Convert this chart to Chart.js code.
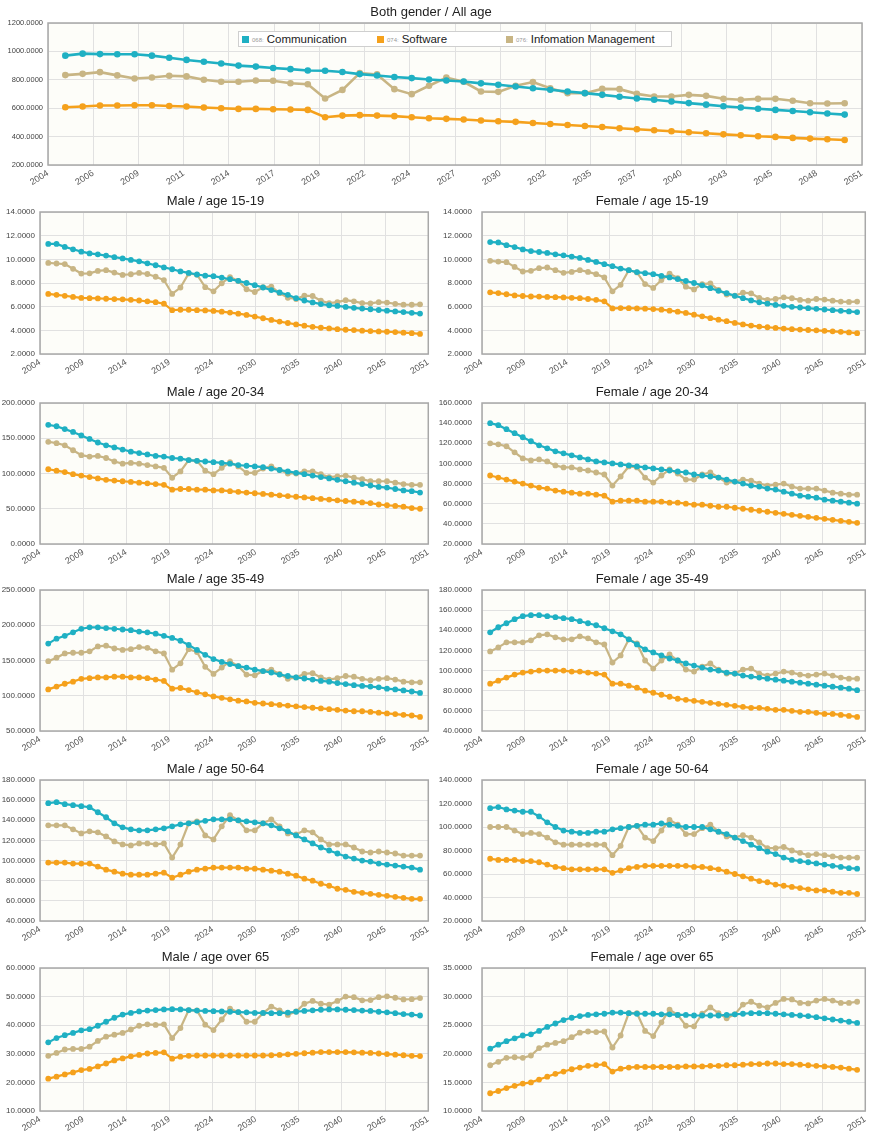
<!DOCTYPE html>
<html>
<head>
<meta charset="utf-8">
<script src="https://cdn.jsdelivr.net/npm/chart.js@4.4.0/dist/chart.umd.min.js"></script>
<style>
  html, body { margin: 0; padding: 0; background: #fff; }
  body { width: 874px; height: 1132px; position: relative; overflow: hidden; font-family: "Liberation Sans", Arial, sans-serif; }
  canvas { position: absolute; display: block; }
  #legend { position: absolute; left: 238px; top: 31px; width: 432px; height: 14px; background: #fff; border: 1px solid #cfcfcf; z-index: 5; }
  #legend .item { position: absolute; top: 0; height: 14px; line-height: 14px; font-size: 11.5px; color: #222; white-space: nowrap; }
  #legend .sw { display: inline-block; width: 7px; height: 7px; margin-right: 3px; vertical-align: 0px; }
  #legend .code { font-size: 6px; color: #999; margin-right: 3px; vertical-align: 1px; }
</style>
</head>
<body>
<div id="legend">
  <span class="item" style="left:3px"><span class="sw" style="background:#1fb0c3"></span><span class="code">068:</span>Communication</span>
  <span class="item" style="left:138px"><span class="sw" style="background:#f5a11c"></span><span class="code">074:</span>Software</span>
  <span class="item" style="left:267px"><span class="sw" style="background:#c8b584"></span><span class="code">076:</span>Infomation Management</span>
</div>
<script>
// ---- data ----
const years = [2005, 2006, 2007, 2008, 2009, 2010, 2011, 2012, 2013, 2014,
  2015, 2016, 2017, 2018, 2019, 2020, 2021, 2022, 2023, 2024,
  2025, 2026, 2027, 2028, 2029, 2030, 2031, 2032, 2033, 2034,
  2035, 2036, 2037, 2038, 2039, 2040, 2041, 2042, 2043, 2044,
  2045, 2046, 2047, 2048, 2049, 2050];

const topTickLabels = ['2004', '2006', '2009', '2011', '2014', '2017', '2019', '2022', '2024', '2027',
  '2030', '2032', '2035', '2037', '2040', '2043', '2045', '2048', '2051'];
const smallTickLabels = ['2004', '2009', '2014', '2019', '2024', '2030', '2035', '2040', '2045', '2051'];

const seriesNames = ['Communication', 'Software', 'Infomation Management'];

// Both gender / All age
const allComm = [970, 984, 981, 980, 980, 970, 955, 940, 927, 915, 900, 893, 883, 875, 866, 864, 855, 840, 830, 820,
  812, 802, 795, 788, 775, 765, 753, 741, 730, 718, 706, 694, 681, 668, 659, 647, 636, 625, 614, 605, 596, 588, 580, 571, 563, 555];
const allSoft = [607, 612, 619, 619, 621, 621, 616, 612, 605, 600, 595, 595, 593, 591, 588, 536, 548, 551, 548, 544,
  536, 529, 525, 520, 513, 508, 504, 496, 489, 482, 475, 468, 459, 452, 445, 438, 431, 424, 416, 409, 402, 398, 391, 386, 381, 376];
const allInfo = [833, 842, 854, 831, 809, 816, 828, 824, 800, 786, 786, 795, 793, 776, 769, 668, 729, 847, 838, 734,
  699, 758, 816, 786, 718, 715, 758, 784, 741, 706, 706, 736, 734, 701, 682, 682, 694, 687, 666, 659, 666, 666, 652, 635, 633, 635];

// Male / age 15-19
const m1519Comm = [11.3, 11.3, 11.05, 10.85, 10.65, 10.5, 10.42, 10.32, 10.18, 10.08, 9.95, 9.83, 9.66, 9.5, 9.32, 9.16, 8.98, 8.85, 8.72, 8.62,
  8.58, 8.46, 8.32, 8.18, 8.0, 7.82, 7.62, 7.4, 7.2, 7.0, 6.72, 6.52, 6.36, 6.22, 6.12, 6.06, 5.98, 5.9, 5.84, 5.78, 5.72, 5.66, 5.6, 5.54, 5.48, 5.42];
const m1519Soft = [7.08, 7.0, 6.92, 6.82, 6.74, 6.72, 6.7, 6.67, 6.64, 6.62, 6.58, 6.52, 6.45, 6.38, 6.25, 5.7, 5.74, 5.74, 5.7, 5.68,
  5.64, 5.58, 5.5, 5.41, 5.3, 5.16, 5.02, 4.88, 4.74, 4.62, 4.5, 4.39, 4.3, 4.22, 4.16, 4.1, 4.05, 4.02, 3.97, 3.94, 3.91, 3.88, 3.85, 3.8, 3.76, 3.7];
const m1519Info = [9.7, 9.65, 9.6, 9.2, 8.8, 8.82, 9.02, 9.08, 8.88, 8.68, 8.74, 8.85, 8.76, 8.53, 8.25, 7.08, 7.62, 8.8, 8.7, 7.65,
  7.3, 7.98, 8.5, 8.17, 7.47, 7.24, 7.64, 7.7, 7.14, 6.75, 6.65, 6.93, 6.9, 6.5, 6.3, 6.38, 6.55, 6.45, 6.3, 6.28, 6.38, 6.35, 6.24, 6.17, 6.16, 6.2];

// Female / age 15-19
const f1519Comm = [11.46, 11.43, 11.2, 11.04, 10.84, 10.7, 10.62, 10.54, 10.42, 10.34, 10.23, 10.12, 9.95, 9.78, 9.59, 9.42, 9.22, 9.08, 8.92, 8.83,
  8.75, 8.6, 8.47, 8.33, 8.17, 8.0, 7.8, 7.56, 7.34, 7.14, 6.92, 6.72, 6.53, 6.37, 6.25, 6.15, 6.07, 5.99, 5.93, 5.87, 5.82, 5.76, 5.7, 5.65, 5.6, 5.54];
const f1519Soft = [7.21, 7.15, 7.05, 6.95, 6.9, 6.86, 6.85, 6.82, 6.8, 6.78, 6.75, 6.72, 6.65, 6.58, 6.45, 5.85, 5.88, 5.87, 5.85, 5.83,
  5.8, 5.75, 5.66, 5.58, 5.47, 5.32, 5.18, 5.03, 4.9, 4.77, 4.63, 4.5, 4.4, 4.32, 4.26, 4.2, 4.15, 4.1, 4.06, 4.03, 4.0, 3.96, 3.92, 3.87, 3.82, 3.76];
const f1519Info = [9.87, 9.81, 9.76, 9.36, 8.97, 9.03, 9.25, 9.31, 9.08, 8.86, 8.94, 9.08, 8.94, 8.75, 8.47, 7.3, 7.85, 9.08, 8.89, 7.91,
  7.58, 8.25, 8.8, 8.41, 7.69, 7.46, 7.91, 7.97, 7.41, 7.02, 6.93, 7.18, 7.13, 6.74, 6.57, 6.65, 6.79, 6.71, 6.57, 6.51, 6.65, 6.6, 6.51, 6.43, 6.4, 6.43];

// Male / age 20-34
const m2034Comm = [169, 167, 163, 159, 154, 149, 144, 140, 137, 134, 131, 129, 127, 125, 124, 122, 121, 119, 118, 117,
  116, 115, 114, 112, 111, 110, 109, 107, 105, 103, 101, 99, 97, 95, 93, 91, 89, 87, 85, 83, 81, 80, 78, 76, 75, 73];
const m2034Soft = [106, 104, 102, 99, 97, 95, 93, 91, 90, 89, 88, 87, 86, 85, 84, 77, 78, 78, 77, 77,
  76, 76, 75, 74, 73, 72, 71, 70, 69, 68, 67, 66, 65, 64, 63, 62, 61, 60, 59, 58, 56, 55, 54, 53, 51, 50];
const m2034Info = [145, 143, 140, 133, 126, 124, 125, 122, 117, 114, 115, 114, 112, 110, 108, 94, 103, 119, 118, 104,
  99, 108, 116, 110, 101, 101, 107, 110, 105, 100, 100, 103, 103, 99, 95, 96, 97, 94, 92, 89, 89, 89, 87, 85, 84, 84];

// Female / age 20-34
const f2034Comm = [140, 138, 134, 130, 126, 122, 118, 115, 112, 110, 108, 106, 104, 102, 101, 100, 99, 98, 97, 96,
  95, 94, 93, 92, 91, 89, 88, 87, 86, 84, 82, 80, 78, 77, 75, 74, 72, 70, 68, 67, 66, 64, 63, 62, 61, 60];
const f2034Soft = [88, 86, 84, 82, 80, 78, 76, 75, 73, 72, 71, 70, 70, 69, 68, 62, 63, 63, 63, 62,
  62, 62, 61, 61, 60, 59, 59, 58, 57, 57, 56, 55, 54, 53, 52, 51, 50, 49, 48, 47, 46, 45, 44, 43, 42, 41];
const f2034Info = [120, 119, 117, 111, 105, 103, 104, 102, 98, 96, 96, 94, 93, 91, 89, 78, 87, 97, 96, 86,
  81, 88, 94, 90, 84, 84, 89, 91, 86, 81, 82, 84, 83, 80, 78, 79, 80, 77, 75, 75, 75, 73, 71, 70, 69, 69];

// Male / age 35-49
const m3549Comm = [174, 181, 185, 190, 195, 197, 197, 196, 195, 194, 193, 191, 190, 188, 185, 182, 178, 172, 165, 158,
  152, 148, 145, 142, 140, 137, 135, 133, 130, 128, 126, 124.5, 123, 121, 120, 118, 116.5, 115, 114, 113, 112, 110, 109, 107.5, 106, 104];
const m3549Soft = [109, 113, 117, 120, 124, 125, 126, 126, 127, 127, 126, 126, 125, 123, 121, 110, 111, 108, 105, 102,
  99, 97, 95, 93, 92, 90, 89, 88, 87, 86, 85, 84, 83, 82, 81, 80, 79, 78, 78, 77, 76, 75, 74, 73, 72, 70];
const m3549Info = [149, 154, 160, 161, 161, 163, 170, 171, 167, 165, 166, 169, 168, 163, 160, 137, 146, 166, 162, 141,
  131, 140, 149, 142, 130, 129, 135, 137, 131, 124, 126, 131, 132, 126, 123, 125, 128, 127, 124, 122, 124, 125, 123, 120, 119, 119];

// Female / age 35-49
const f3549Comm = [138, 143, 147, 151, 154, 155, 155, 154, 153, 152, 151, 149, 147, 145, 142, 139, 136, 131, 126, 121,
  118, 115, 112, 110, 107, 105, 103, 101, 100, 98, 97, 95, 94, 93, 92, 91, 90, 89, 88, 87, 86, 85, 84, 83, 82, 80.5];
const f3549Soft = [87, 90, 93, 96, 98, 99, 100, 100, 100, 100, 99, 99, 98, 97, 96, 87, 87, 85, 83, 80,
  78, 76, 74, 72, 71, 70, 69, 68, 67, 66, 65, 64, 63, 63, 62, 61, 61, 60, 59, 59, 58, 57, 57, 56, 55, 54];
const f3549Info = [119, 123, 128, 128, 128, 130, 135, 136, 133, 131, 131, 134, 132, 128, 126, 108, 115, 131, 127, 110,
  102, 110, 116, 110, 101, 99, 104, 107, 101, 97, 97, 101, 102, 97, 95, 97, 99, 98, 96, 95, 96, 97, 95, 93, 92, 92];

// Male / age 50-64
const m5064Comm = [157, 158, 156, 155, 154, 153, 148, 143, 137, 133, 131, 130, 130, 131, 132, 134, 136, 137, 138, 139.5,
  141, 141, 141, 140, 139, 138, 137, 135, 132, 129, 125, 121, 117, 113, 110, 107, 104, 102, 100, 99, 97, 96, 95, 94, 93, 91];
const m5064Soft = [98, 98, 98, 97, 97, 97, 94, 91, 89, 87, 86, 86, 86, 87, 88, 83, 86, 89, 91, 92,
  93, 93, 93, 93, 92, 92, 91, 90, 89, 87, 85, 82, 80, 77, 75, 72, 71, 69, 68, 67, 66, 65, 64, 63, 62, 62];
const m5064Info = [135, 135, 135, 131, 127, 129, 128, 124, 119, 116, 115, 117, 117, 116, 117, 103, 116, 137, 139, 125,
  121, 134, 145, 140, 130, 130, 137, 141, 134, 127, 126, 130, 128, 121, 116, 116, 116, 113, 109, 108, 109, 108, 107, 105, 105, 105];

// Female / age 50-64
const f5064Comm = [116, 117, 115, 114, 113, 113, 109, 104, 100, 97, 96, 95, 95, 96, 96, 98, 99, 100, 101, 102,
  102, 103, 102, 101, 100, 100, 100, 98, 96, 94, 91, 88, 85, 82, 79, 77, 74, 72, 71, 70, 69, 68, 67, 66, 65, 64.5];
const f5064Soft = [73, 72, 72, 72, 71, 71, 70, 68, 66, 65, 64, 64, 64, 64, 64, 61, 63, 65, 66, 67,
  67, 67, 67, 67, 67, 66, 66, 65, 64, 62, 60, 58, 56, 54, 53, 51, 50, 49, 48, 47, 46, 46, 45, 44, 44, 43];
const f5064Info = [100, 100, 100, 97, 94, 95, 94, 91, 87, 85, 85, 85, 85, 85, 85, 76, 84, 100, 101, 91,
  88, 97, 106, 102, 94, 94, 99, 102, 96, 92, 91, 93, 91, 87, 82, 82, 83, 80, 78, 76, 77, 76, 75, 74, 74, 74];

// Male / age over 65
const m65Comm = [34, 35.5, 36.5, 37.3, 38.2, 38.6, 39.8, 41.2, 42.6, 43.7, 44.3, 44.8, 45.1, 45.3, 45.5, 45.6, 45.5, 45.3, 45.1, 45.0,
  44.9, 44.8, 44.7, 44.6, 44.5, 44.3, 44.3, 44.2, 44.2, 44.4, 44.7, 45.0, 45.2, 45.4, 45.5, 45.5, 45.4, 45.3, 45.1, 45.0, 44.7, 44.5, 44.2, 43.9, 43.7, 43.4];
const m65Soft = [21.3, 22, 22.8, 23.5, 24.3, 24.7, 25.6, 26.6, 27.7, 28.4, 29.1, 29.6, 30.1, 30.3, 30.5, 28.3, 29, 29.3, 29.4, 29.4,
  29.4, 29.4, 29.4, 29.4, 29.4, 29.4, 29.4, 29.5, 29.6, 29.8, 30, 30.2, 30.4, 30.6, 30.6, 30.6, 30.6, 30.5, 30.4, 30.3, 30.1, 29.9, 29.7, 29.5, 29.3, 29.2];
const m65Info = [29.3, 30.3, 31.5, 31.7, 31.7, 32.5, 34.5, 36, 36.7, 37.3, 38.5, 39.8, 40.3, 40.1, 40.3, 35.5, 39, 45.3, 45.2, 40.2,
  38.3, 42, 45.8, 44.6, 41.2, 41.2, 44.2, 46.5, 45.2, 43.6, 44.8, 47.5, 48.5, 47.5, 47.2, 48.5, 50, 49.8, 48.7, 48.8, 49.8, 50.1, 49.6, 49, 49.1, 49.5];

// Female / age over 65
const f65Comm = [20.9, 21.6, 22.2, 22.7, 23.2, 23.4, 24.0, 24.7, 25.3, 25.9, 26.3, 26.6, 26.8, 26.9, 27.0, 27.2, 27.2, 27.1, 27.0, 27.0,
  27.0, 26.9, 26.9, 26.8, 26.8, 26.7, 26.7, 26.7, 26.7, 26.8, 26.9, 27.0, 27.1, 27.1, 27.1, 27.0, 26.9, 26.8, 26.7, 26.6, 26.4, 26.2, 26.0, 25.8, 25.6, 25.4];
const f65Soft = [13.1, 13.5, 14.0, 14.4, 14.8, 15.0, 15.5, 16.0, 16.5, 16.9, 17.3, 17.6, 17.9, 18.0, 18.2, 16.9, 17.4, 17.6, 17.7, 17.7,
  17.7, 17.7, 17.7, 17.7, 17.8, 17.8, 17.8, 17.9, 17.9, 18.0, 18.0, 18.1, 18.2, 18.2, 18.3, 18.3, 18.2, 18.2, 18.1, 18.0, 17.9, 17.8, 17.7, 17.6, 17.4, 17.2];
const f65Info = [18.0, 18.6, 19.3, 19.4, 19.3, 19.7, 21.0, 21.6, 21.9, 22.2, 22.9, 23.7, 23.9, 23.8, 23.9, 21.1, 23.2, 27.1, 27.1, 24.0,
  23.1, 25.5, 27.7, 26.8, 24.9, 24.8, 27.0, 28.1, 27.1, 26.2, 26.9, 28.6, 29.1, 28.4, 28.1, 28.9, 29.6, 29.5, 28.9, 28.8, 29.3, 29.6, 29.3, 28.9, 28.9, 29.1];

// ---- styling ----
const COLORS = ['#1fb0c3', '#f5a11c', '#c8b584'];
const FONT = '"Liberation Sans", Arial, sans-serif';
Chart.defaults.font.family = FONT;

// plot background and frame
const plotFrame = {
  id: 'plotFrame',
  beforeDraw(chart) {
    const { ctx, chartArea: a } = chart;
    ctx.save();
    ctx.fillStyle = '#fdfdf9';
    ctx.fillRect(a.left, a.top, a.width, a.height);
    ctx.restore();
  },
  beforeDatasetsDraw(chart) {
    const { ctx, chartArea: a } = chart;
    ctx.save();
    ctx.strokeStyle = '#a8a8a8';
    ctx.lineWidth = 1.5;
    ctx.strokeRect(a.left, a.top, a.width, a.height);
    ctx.restore();
  }
};

function dataset(i, values, radius, width) {
  return {
    label: seriesNames[i],
    data: years.map((y, k) => ({ x: y, y: values[k] })),
    borderColor: COLORS[i],
    backgroundColor: COLORS[i],
    pointBackgroundColor: COLORS[i],
    pointBorderWidth: 0,
    pointRadius: radius,
    borderWidth: width,
    tension: 0,
    fill: false
  };
}

// one chart = one absolutely placed canvas
function makeChart(s) {
  const top = s.plotTop - 23;
  const h = (s.plotBottom - s.plotTop) + 23 + s.xh;
  const cv = document.createElement('canvas');
  cv.width = s.w;
  cv.height = h;
  cv.style.left = s.x + 'px';
  cv.style.top = top + 'px';
  cv.style.width = s.w + 'px';
  cv.style.height = h + 'px';
  document.body.appendChild(cv);

  const labels = s.ticks;
  const n = labels.length;

  return new Chart(cv, {
    type: 'line',
    data: {
      datasets: [
        dataset(0, s.comm, s.r, s.lw),
        dataset(1, s.soft, s.r, s.lw),
        dataset(2, s.info, s.r, s.lw)
      ]
    },
    options: {
      responsive: false,
      animation: false,
      layout: { padding: { left: 0, right: s.padRight, top: 0, bottom: 0 } },
      plugins: {
        legend: { display: false },
        tooltip: { enabled: false },
        title: {
          display: true,
          text: s.title,
          color: '#222',
          font: { size: 13, weight: 'normal' },
          padding: { top: 4.4, bottom: 3 }
        }
      },
      scales: {
        x: {
          type: 'linear',
          min: 2004,
          max: 2051,
          afterBuildTicks: (axis) => {
            axis.ticks = labels.map((l, i) => ({ value: 2004 + i * 47 / (n - 1) }));
          },
          afterFit: (axis) => { axis.height = s.xh; },
          grid: { color: '#e1e1e1', drawTicks: false },
          border: { display: false },
          ticks: {
            autoSkip: false,
            minRotation: 32,
            maxRotation: 32,
            padding: 3,
            color: '#555',
            font: { size: 9 },
            callback: (v, i) => labels[i]
          }
        },
        y: {
          min: s.yMin,
          max: s.yMax,
          afterFit: (axis) => { axis.width = s.yw; },
          grid: { color: '#e1e1e1', drawTicks: false },
          border: { display: false },
          ticks: {
            stepSize: s.yStep,
            padding: s.yPad,
            color: '#444',
            font: { size: s.yFont },
            callback: (v) => v.toFixed(4)
          }
        }
      }
    },
    plugins: [plotFrame]
  });
}

// ---- top chart ----
makeChart({
  title: 'Both gender / All age', x: 0, w: 874, plotTop: 23, plotBottom: 165, xh: 27,
  yw: 48, yPad: 5, yFont: 7.5, padRight: 12, r: 3.3, lw: 2.6,
  yMin: 200, yMax: 1200, yStep: 200, ticks: topTickLabels,
  comm: allComm, soft: allSoft, info: allInfo
});

// ---- small charts ----
const rows = [
  { top: 212, bottom: 354 },
  { top: 403, bottom: 544 },
  { top: 590, bottom: 731 },
  { top: 780, bottom: 921 },
  { top: 968, bottom: 1111 }
];

const panels = [
  ['Male / age 15-19', 2, 14, 2, m1519Comm, m1519Soft, m1519Info],
  ['Female / age 15-19', 2, 14, 2, f1519Comm, f1519Soft, f1519Info],
  ['Male / age 20-34', 0, 200, 50, m2034Comm, m2034Soft, m2034Info],
  ['Female / age 20-34', 20, 160, 20, f2034Comm, f2034Soft, f2034Info],
  ['Male / age 35-49', 50, 250, 50, m3549Comm, m3549Soft, m3549Info],
  ['Female / age 35-49', 40, 180, 20, f3549Comm, f3549Soft, f3549Info],
  ['Male / age 50-64', 40, 180, 20, m5064Comm, m5064Soft, m5064Info],
  ['Female / age 50-64', 20, 140, 20, f5064Comm, f5064Soft, f5064Info],
  ['Male / age over 65', 10, 60, 10, m65Comm, m65Soft, m65Info],
  ['Female / age over 65', 10, 35, 5, f65Comm, f65Soft, f65Info]
];

panels.forEach((p, i) => {
  const row = rows[Math.floor(i / 2)];
  const right = i % 2 === 1;
  makeChart({
    title: p[0],
    x: right ? 437 : 0, w: 437,
    plotTop: row.top, plotBottom: row.bottom, xh: 24,
    yw: right ? 45 : 40, yPad: right ? 10 : 5, yFont: 8,
    padRight: right ? 7 : 6, r: 2.9, lw: 2.2,
    yMin: p[1], yMax: p[2], yStep: p[3], ticks: smallTickLabels,
    comm: p[4], soft: p[5], info: p[6]
  });
});
</script>
</body>
</html>
